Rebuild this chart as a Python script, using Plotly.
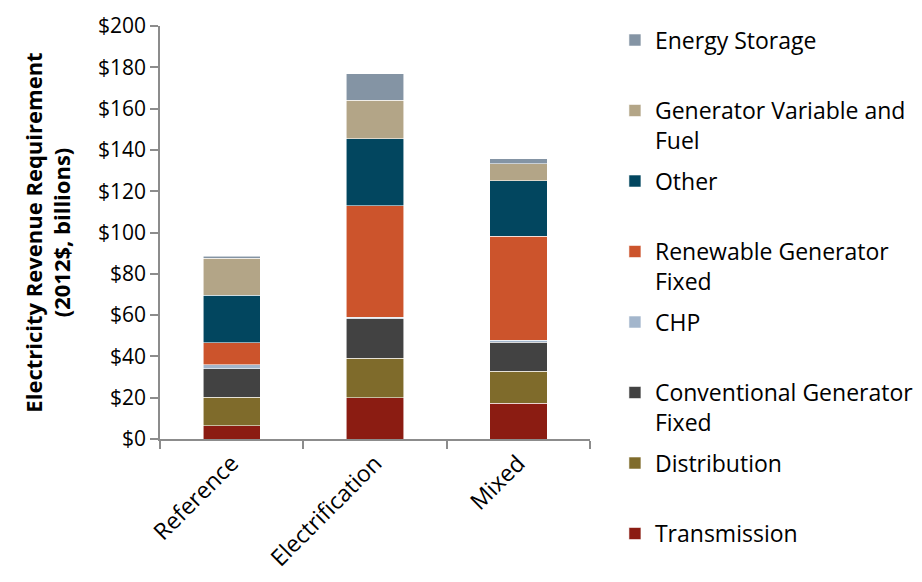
import plotly.graph_objects as go

scenarios = ["Reference", "Electrification", "Mixed"]

transmission = [6.5, 19.9, 17.3]
distribution = [13.8, 19.1, 15.4]
conventional_fixed = [13.7, 19.2, 14.1]
chp = [2.0, 0.7, 1.0]
renewable_fixed = [10.7, 54.0, 50.3]
other = [23.0, 32.5, 27.0]
gen_variable_fuel = [17.9, 18.7, 8.1]
energy_storage = [0.8, 12.7, 2.5]

series = [
    ("Transmission<br> ", transmission, "#8B1C12"),
    ("Distribution<br> ", distribution, "#7F6B2B"),
    ("Conventional Generator<br>Fixed", conventional_fixed, "#424242"),
    ("CHP<br> ", chp, "#A3B6CC"),
    ("Renewable Generator<br>Fixed", renewable_fixed, "#CC542C"),
    ("Other<br> ", other, "#02465F"),
    ("Generator Variable and<br>Fuel", gen_variable_fuel, "#B3A587"),
    ("Energy Storage<br> ", energy_storage, "#8494A4"),
]

fig = go.Figure()
n = len(series)
for i, (name, vals, color) in enumerate(series):
    fig.add_trace(go.Bar(
        x=scenarios, y=vals, name=name, legendgroup=str(i), legendrank=100 + (n - i),
        marker=dict(color=color, line=dict(color="rgba(255,255,255,0.7)", width=0.8)),
    ))

font = "Open Sans"
fig.update_layout(
    width=922, height=582,
    barmode="stack", bargap=0.6,
    plot_bgcolor="white", paper_bgcolor="white",
    margin=dict(l=152, r=333, t=11, b=151),
    font=dict(family=font, size=21, color="black"),
    showlegend=True,
    legend=dict(
        x=1.058, xanchor="left", y=1.018, yanchor="top",
        traceorder="grouped", tracegroupgap=7.7,
        valign="top", maxheight=1,
        font=dict(family=font, size=23, color="black"),
        bgcolor="rgba(0,0,0,0)",
    ),
    xaxis=dict(
        automargin=False,
        showline=True, linecolor="#8c8c8c", linewidth=1.5,
        ticks="outside", tickson="boundaries", ticklen=8, tickcolor="#8c8c8c", tickwidth=1.5,
        tickangle=-45, tickfont=dict(size=23, family=font),
        showgrid=False,
    ),
    yaxis=dict(
        automargin=False,
        range=[0, 200], dtick=20, tickprefix="$",
        showline=True, linecolor="#8c8c8c", linewidth=1.5,
        ticks="outside", ticklen=8, tickcolor="#8c8c8c", tickwidth=1.5,
        showgrid=False, zeroline=False,
        tickfont=dict(size=21, family=font),
        title=dict(text="<b>Electricity Revenue Requirement<br>(2012$, billions)</b>",
                   font=dict(size=22, family=font), standoff=21),
    ),
)

fig.write_html("out.html")
